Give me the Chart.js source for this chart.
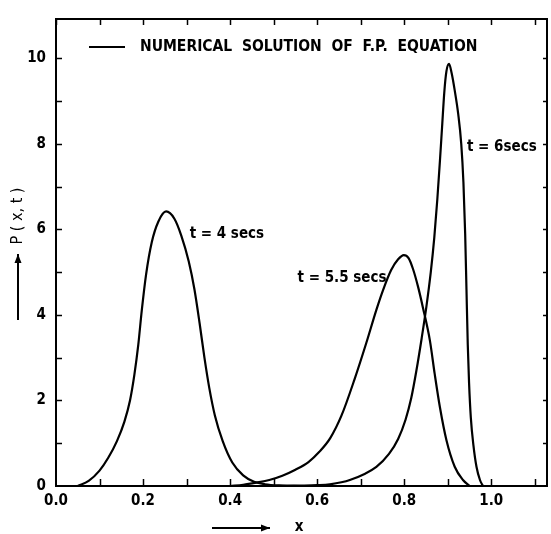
<!DOCTYPE html>
<html>
<head>
<meta charset="utf-8">
<script src="https://cdn.jsdelivr.net/npm/chart.js@4/dist/chart.umd.min.js"></script>
<style>
  html, body { margin: 0; padding: 0; background: #fff; }
  #wrap { width: 551px; height: 534px; }
</style>
</head>
<body>
<div id="wrap"><canvas id="fpChart" width="551" height="534"></canvas></div>
<script>
// P(x,t), one pair of arrays per time
const xT4 = [0.05, 0.075, 0.10, 0.12, 0.14, 0.157, 0.170, 0.180, 0.189, 0.197, 0.207, 0.220, 0.235, 0.253,
             0.272, 0.288, 0.305, 0.318, 0.330, 0.341, 0.352, 0.365, 0.383, 0.405, 0.43, 0.455, 0.48, 0.52, 0.56];
const yT4 = [0, 0.12, 0.36, 0.66, 1.05, 1.5, 2.0, 2.6, 3.3, 4.1, 4.95, 5.7, 6.18, 6.42,
             6.25, 5.85, 5.25, 4.6, 3.8, 3.0, 2.3, 1.65, 1.05, 0.55, 0.25, 0.10, 0.04, 0.01, 0];

const xT55 = [0.40, 0.43, 0.46, 0.49, 0.52, 0.55, 0.58, 0.605, 0.63, 0.656, 0.686, 0.713, 0.736, 0.752, 0.770, 0.786, 0.799,
              0.810, 0.820, 0.832, 0.843, 0.859, 0.870, 0.882, 0.897, 0.916, 0.935, 0.95];
const yT55 = [0, 0.03, 0.08, 0.14, 0.24, 0.38, 0.56, 0.80, 1.12, 1.65, 2.5, 3.35, 4.12, 4.6, 5.05, 5.30, 5.40,
              5.33, 5.08, 4.65, 4.17, 3.40, 2.62, 1.84, 1.07, 0.45, 0.14, 0];

const xT6 = [0.50, 0.56, 0.60, 0.629, 0.675, 0.736, 0.765, 0.786, 0.803, 0.816, 0.828, 0.840, 0.851, 0.861, 0.869,
             0.876, 0.882, 0.887, 0.892, 0.897, 0.903, 0.909, 0.916, 0.924, 0.931, 0.936, 0.940, 0.943, 0.946, 0.949,
             0.953, 0.959, 0.966, 0.974, 0.981];
const yT6 = [0, 0.01, 0.02, 0.04, 0.14, 0.45, 0.75, 1.1, 1.55, 2.05, 2.7, 3.45, 4.2, 5.0, 5.8,
             6.7, 7.6, 8.4, 9.2, 9.7, 9.87, 9.65, 9.25, 8.7, 8.0, 7.1, 5.9, 4.6, 3.3, 2.4,
             1.6, 0.95, 0.45, 0.14, 0];

const xTickValues = [0, 0.1, 0.2, 0.3, 0.4, 0.5, 0.6, 0.7, 0.8, 0.9, 1.0, 1.1];
const xTickLabels = ['0.0', '', '0.2', '', '0.4', '', '0.6', '', '0.8', '', '1.0', ''];
const yTickValues = [0, 1, 2, 3, 4, 5, 6, 7, 8, 9, 10];
const yTickLabels = ['0', '', '2', '', '4', '', '6', '', '8', '', '10'];

const legendText = 'NUMERICAL  SOLUTION  OF  F.P.  EQUATION';
const curveLabels = ['t = 4 secs', 't = 5.5 secs', 't = 6secs'];
// where each curve label sits, in data units (left edge, middle)
const curveLabelX = [0.307, 0.555, 0.944];
const curveLabelY = [5.88, 4.86, 7.93];

const FONT = '"DejaVu Sans Condensed", "DejaVu Sans", sans-serif';

function pts(xs, ys) {
    return xs.map((v, i) => ({ x: v, y: ys[i] }));
}

function arrow(ctx, x1, y1, x2, y2) {
    ctx.beginPath();
    ctx.moveTo(x1, y1);
    ctx.lineTo(x2, y2);
    ctx.stroke();
    const ang = Math.atan2(y2 - y1, x2 - x1);
    ctx.beginPath();
    ctx.moveTo(x2, y2);
    ctx.lineTo(x2 - 9 * Math.cos(ang) + 3.5 * Math.sin(ang), y2 - 9 * Math.sin(ang) - 3.5 * Math.cos(ang));
    ctx.lineTo(x2 - 9 * Math.cos(ang) - 3.5 * Math.sin(ang), y2 - 9 * Math.sin(ang) + 3.5 * Math.cos(ang));
    ctx.closePath();
    ctx.fill();
}

const framePlugin = {
    id: 'frame',
    afterDraw(chart) {
        const { ctx, chartArea: a, scales: { x, y } } = chart;
        ctx.save();
        ctx.strokeStyle = '#000';
        ctx.fillStyle = '#000';

        // top + right border
        ctx.lineWidth = 2;
        ctx.beginPath();
        ctx.moveTo(a.left, a.top);
        ctx.lineTo(a.right, a.top);
        ctx.lineTo(a.right, a.bottom);
        ctx.stroke();

        // inward tick marks on all four sides
        ctx.lineWidth = 1.5;
        xTickValues.forEach(v => {
            const px = Math.round(x.getPixelForValue(v)) + 0.5;
            if (v > 0) {
                ctx.beginPath();
                ctx.moveTo(px, a.bottom);
                ctx.lineTo(px, a.bottom - 7);
                ctx.stroke();
            }
            ctx.beginPath();
            ctx.moveTo(px, a.top);
            ctx.lineTo(px, a.top + 6);
            ctx.stroke();
        });
        yTickValues.forEach(v => {
            const py = Math.round(y.getPixelForValue(v)) + 0.5;
            if (v > 0) {
                ctx.beginPath();
                ctx.moveTo(a.left, py);
                ctx.lineTo(a.left + 6, py);
                ctx.stroke();
                ctx.beginPath();
                ctx.moveTo(a.right, py);
                ctx.lineTo(a.right - 4, py);
                ctx.stroke();
            }
        });

        // legend
        ctx.lineWidth = 2;
        ctx.beginPath();
        ctx.moveTo(89, 47);
        ctx.lineTo(125, 47);
        ctx.stroke();
        ctx.font = 'bold 15.5px ' + FONT;
        ctx.textBaseline = 'middle';
        ctx.textAlign = 'left';
        ctx.fillText(legendText, 140, 47);

        // curve labels
        ctx.font = 'bold 15px ' + FONT;
        curveLabels.forEach((t, i) => {
            ctx.fillText(t, x.getPixelForValue(curveLabelX[i]), y.getPixelForValue(curveLabelY[i]));
        });

        // x axis title
        ctx.lineWidth = 2;
        arrow(ctx, 212, 528, 270, 528);
        ctx.textAlign = 'center';
        ctx.fillText('x', 299, 527);

        // y axis title, rotated
        arrow(ctx, 18, 320, 18, 254);
        ctx.translate(18, 216);
        ctx.rotate(-Math.PI / 2);
        ctx.font = '16px ' + FONT;
        ctx.fillText('P ( x, t )', 0, 0);
        ctx.restore();
    }
};

const ctx = document.getElementById('fpChart').getContext('2d');
new Chart(ctx, {
    type: 'line',
    data: {
        datasets: [
            { label: 't = 4 secs', data: pts(xT4, yT4) },
            { label: 't = 5.5 secs', data: pts(xT55, yT55) },
            { label: 't = 6 secs', data: pts(xT6, yT6) }
        ]
    },
    options: {
        responsive: false,
        animation: false,
        layout: { padding: { top: 16, right: 4, left: 0, bottom: 0 } },
        elements: {
            point: { radius: 0 },
            line: { borderColor: '#000', borderWidth: 2.2, cubicInterpolationMode: 'monotone', fill: false }
        },
        plugins: { legend: { display: false }, tooltip: { enabled: false } },
        scales: {
            x: {
                type: 'linear',
                min: 0,
                max: 1.128,
                afterFit: s => { s.height = 48; },
                afterBuildTicks: s => { s.ticks = xTickValues.map(v => ({ value: v })); },
                grid: { display: false, drawTicks: false },
                border: { display: true, color: '#000', width: 2 },
                ticks: {
                    autoSkip: false,
                    maxRotation: 0,
                    padding: 6,
                    color: '#000',
                    font: { family: FONT, size: 15, weight: 'bold' },
                    callback: (v, i) => xTickLabels[i]
                }
            },
            y: {
                min: 0,
                max: 10.92,
                afterFit: s => { s.width = 56; },
                afterBuildTicks: s => { s.ticks = yTickValues.map(v => ({ value: v })); },
                grid: { display: false, drawTicks: false },
                border: { display: true, color: '#000', width: 2 },
                ticks: {
                    padding: 10,
                    color: '#000',
                    font: { family: FONT, size: 15, weight: 'bold' },
                    callback: (v, i) => yTickLabels[i]
                }
            }
        }
    },
    plugins: [framePlugin]
});
</script>
</body>
</html>
